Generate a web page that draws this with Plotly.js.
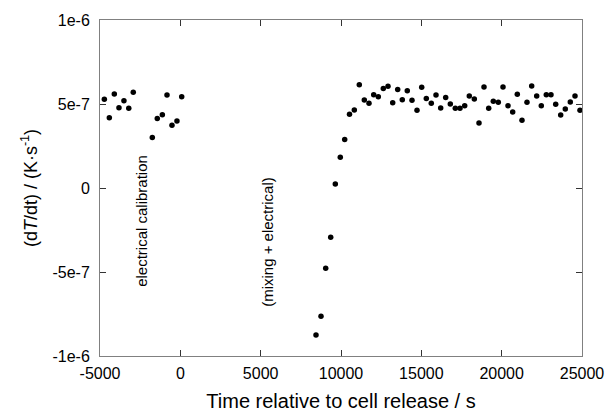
<!DOCTYPE html>
<html>
<head>
<meta charset="utf-8">
<script src="https://cdn.plot.ly/plotly-3.0.1.min.js"></script>
<style>html,body{margin:0;padding:0;background:#fff;}#chart{width:609px;height:420px;}</style>
</head>
<body>
<div id="chart"></div>
<script>
// Time relative to cell release (s) and dT/dt (K/s)
const calibTime = [-4730, -4420, -4110, -3820, -3510, -3210, -2930, -1745, -1435, -1120, -830, -520, -210, 85];
const calibRate = [5.28e-7, 4.18e-7, 5.60e-7, 4.78e-7, 5.20e-7, 4.74e-7, 5.70e-7, 3.00e-7, 4.13e-7, 4.36e-7, 5.54e-7, 3.73e-7, 3.99e-7, 5.43e-7];

const mixTime = [8444, 8755, 9048, 9359, 9645, 9956, 10230,
  10529, 10828, 11139, 11450, 11743, 12035, 12322, 12633, 12925, 13218,
  13529, 13815, 14126, 14419, 14730, 15023, 15309, 15620, 15913, 16205,
  16516, 16803, 17114, 17406, 17699, 17985, 18297, 18589, 18900, 19193,
  19479, 19790, 20083, 20394, 20687, 20973, 21265, 21576, 21869, 22180,
  22467, 22778, 23070, 23363, 23674, 23960, 24271, 24564, 24875];
const mixRate = [-8.75e-7, -7.64e-7, -4.78e-7, -2.93e-7, 2.4e-8, 1.83e-7, 2.88e-7,
  4.39e-7, 4.64e-7, 6.15e-7, 5.24e-7, 5.04e-7, 5.55e-7, 5.43e-7, 5.93e-7, 6.05e-7, 5.08e-7,
  5.87e-7, 5.26e-7, 5.79e-7, 5.22e-7, 4.63e-7, 5.99e-7, 5.32e-7, 5.04e-7, 5.54e-7, 4.76e-7,
  5.38e-7, 5.00e-7, 4.74e-7, 4.74e-7, 4.90e-7, 5.48e-7, 5.30e-7, 3.87e-7, 6.01e-7, 4.74e-7,
  5.16e-7, 5.10e-7, 6.01e-7, 4.90e-7, 4.52e-7, 5.58e-7, 4.03e-7, 5.10e-7, 6.07e-7, 5.48e-7,
  4.90e-7, 5.55e-7, 5.55e-7, 4.98e-7, 4.35e-7, 4.70e-7, 5.12e-7, 5.48e-7, 4.63e-7];

const xTickVals = [-5000, 0, 5000, 10000, 15000, 20000, 25000];
const xTickText = ['-5000', '0', '5000', '10000', '15000', '20000', '25000'];
const yTickVals = [-1e-6, -5e-7, 0, 5e-7, 1e-6];
const yTickText = ['-1e-6', '-5e-7', '0', '5e-7', '1e-6'];

const noteText = ['electrical calibration', '(mixing + electrical)'];
const noteX = [-2390, 5450];
const noteY = [-1.96e-7, -3.21e-7];

const marker = {color: '#000', size: 5.5, symbol: 'circle'};
const traces = [
  {x: calibTime, y: calibRate, type: 'scatter', mode: 'markers', marker: marker, cliponaxis: false},
  {x: mixTime, y: mixRate, type: 'scatter', mode: 'markers', marker: marker, cliponaxis: false}
];

const axisCommon = {
  showgrid: false, zeroline: false, showline: true, linecolor: '#808080', linewidth: 1,
  mirror: 'ticks', ticks: 'inside', ticklen: 6, tickcolor: '#333', tickwidth: 1,
  tickfont: {size: 16, color: '#000'}
};

const layout = {
  width: 609, height: 420,
  margin: {l: 100, r: 27, t: 20, b: 64},
  paper_bgcolor: '#fff', plot_bgcolor: '#fff',
  font: {family: 'Liberation Sans, Arial, sans-serif', color: '#000'},
  showlegend: false,
  xaxis: Object.assign({}, axisCommon, {
    range: [-5000, 25000], tickmode: 'array', tickvals: xTickVals, ticktext: xTickText,
    ticklabelstandoff: 3,
    title: {text: 'Time relative to cell release / s', font: {size: 20, color: '#000'}, standoff: 12}
  }),
  yaxis: Object.assign({}, axisCommon, {
    range: [-1e-6, 1e-6], tickmode: 'array', tickvals: yTickVals, ticktext: yTickText,
    ticklabelstandoff: 6,
    title: {text: '(d<i>T</i>/dt) / (K·s<sup>-1</sup>)', font: {size: 18, color: '#000'}, standoff: 10}
  }),
  annotations: noteText.map((t, i) => ({
    x: noteX[i], y: noteY[i], xref: 'x', yref: 'y', text: t, showarrow: false,
    textangle: -90, font: {size: 15, color: '#000'}
  }))
};

Plotly.newPlot('chart', traces, layout, {staticPlot: true, displayModeBar: false});
</script>
</body>
</html>
